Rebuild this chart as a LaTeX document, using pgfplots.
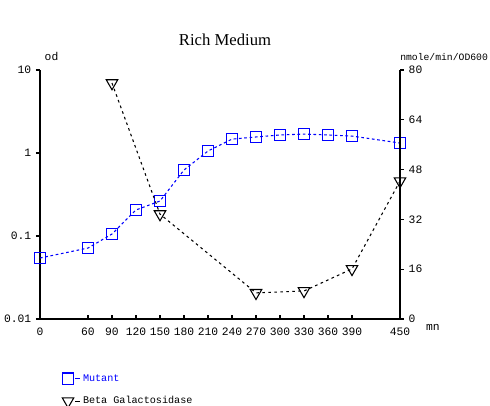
\documentclass[border=0pt]{standalone}
\usepackage{fontspec}
\setmainfont{Liberation Mono}
\newfontfamily\titlefont{Liberation Serif}
\usepackage{pgfplots}
\pgfplotsset{compat=1.18}
\begin{document}
\begin{tikzpicture}
\useasboundingbox (0,0) rectangle (367.5pt,303.75pt);
\node[font=\titlefont\fontsize{12.5}{15}\selectfont] at (168.75pt,274pt) {Rich Medium};
\pgfplotsset{
  every axis/.append style={
    scale only axis, width=270pt, height=186.75pt,
    at={(30pt,64.5pt)}, anchor=south west,
    xmin=0, xmax=450,
    axis line style={line width=1pt},
    tick style={line width=0.8pt, black},
    major tick length=3pt, tick align=outside,
    tick label style={font=\fontsize{8.5}{10}\selectfont},
    /pgf/number format/assume math mode=true,
    clip=false,
  }
}
\begin{axis}[
  ymode=log, ymin=0.01, ymax=10,
  axis x line*=bottom, axis y line*=left,
  xtick={0,60,90,120,150,180,210,240,270,300,330,360,390,450},
  x tick style={yshift=3pt},
  ytick={0.01,0.1,1,10}, yticklabels={0.01,0.1,1,10},
  minor ytick={}, 
  yminorticks=false,
  legend style={draw=none, fill=none, at={(axis description cs:0.05,-0.2)}, anchor=north west,
    font=\fontsize{7.6}{10}\selectfont, row sep=6pt},
  legend cell align=left,
  legend image code/.code={
    \draw[#1, only marks] plot coordinates {(0.14cm,0cm)};
    \draw[#1, solid, mark=none] (0.33cm,0cm) -- (0.45cm,0cm);
  },
]
\addplot[blue, line width=0.8pt, dash pattern=on 2pt off 2pt, mark=square, mark size=4.3pt, mark options={solid, line width=0.9pt}]
coordinates {
(0,0.0543) (60,0.0716) (90,0.1057) (120,0.206) (150,0.264) (180,0.624)
(210,1.057) (240,1.47) (270,1.56) (300,1.65) (330,1.69) (360,1.65) (390,1.6) (450,1.32)
};
\addlegendentry{\textcolor{blue}{Mutant}}
\addlegendimage{black, line width=0.8pt, mark=triangle, mark size=5pt, mark options={solid, rotate=180, line width=0.8pt}}
\addlegendentry{Beta Galactosidase}
\node[anchor=base west, font=\fontsize{8.5}{10}\selectfont] at ([yshift=7pt]rel axis cs:0,1) {od};
\node[anchor=base west, font=\fontsize{7.3}{10}\selectfont, inner sep=0pt] at ([yshift=7pt]rel axis cs:1,1) {nmole/min/OD600};
\node[anchor=west, font=\fontsize{8.5}{10}\selectfont] at ([xshift=16pt,yshift=-6.5pt]rel axis cs:1,0) {mn};
\end{axis}
\begin{axis}[
  ymin=0, ymax=80,
  axis x line=none, axis y line*=right,
  ytick={0,16,32,48,64,80},
]
\addplot[black, line width=0.8pt, dash pattern=on 2pt off 2.5pt, mark=triangle, mark size=5pt, mark options={solid, rotate=180, line width=0.8pt}]
coordinates {
(90,75.8) (150,33.7) (270,8.4) (330,9.0) (390,16.1) (450,44.3)
};
\end{axis}
\end{tikzpicture}
\end{document}
